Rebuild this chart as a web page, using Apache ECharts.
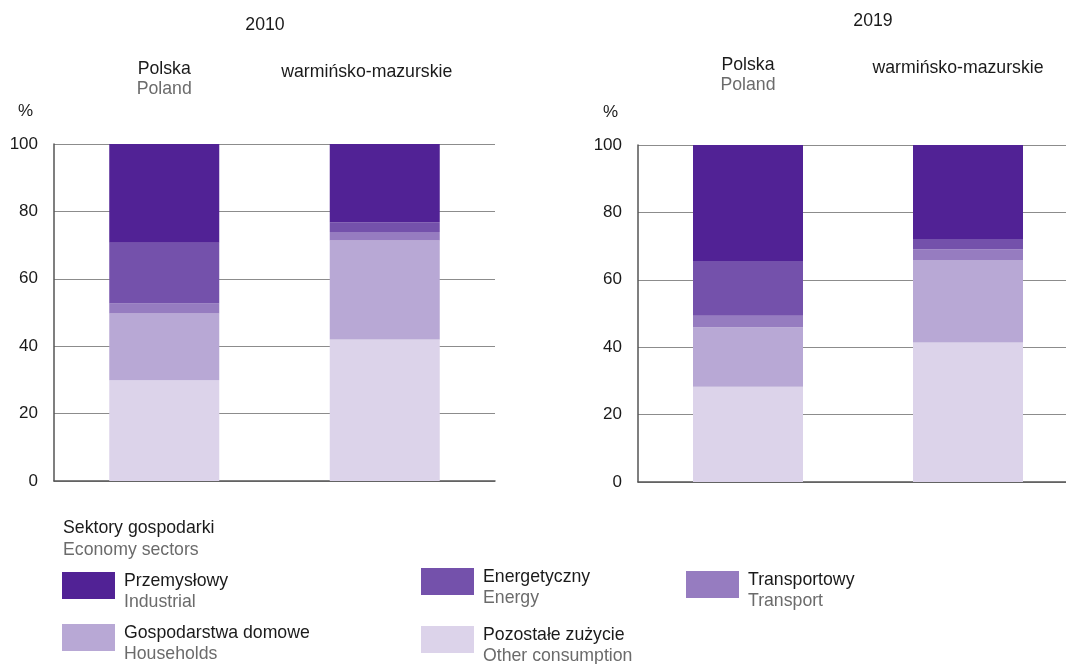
<!DOCTYPE html>
<html>
<head>
<meta charset="utf-8">
<script src="https://cdn.jsdelivr.net/npm/echarts@6/dist/echarts.min.js"></script>
<style>
  html, body { margin: 0; padding: 0; background: #fff; }
  #main { width: 1066px; height: 664px; }
</style>
</head>
<body>
<div id="main"></div>
<script>
// regions (Polish / English)
var regionsPl = ['Polska', 'warmińsko-mazurskie'];
var regionsEn = ['Poland', ''];
var years = ['2010', '2019'];

// sectors, bottom of stack first
var sectorsPl = ['Pozostałe zużycie', 'Gospodarstwa domowe', 'Transportowy', 'Energetyczny', 'Przemysłowy'];
var sectorsEn = ['Other consumption', 'Households', 'Transport', 'Energy', 'Industrial'];
var sectorColors = ['#dcd3ea', '#b8a8d5', '#967cc0', '#7451ab', '#512295'];

// shares in %, [Polska, warmińsko-mazurskie]
var other2010 = [29.9, 42.0];
var households2010 = [19.8, 29.4];
var transport2010 = [3.0, 2.5];
var energy2010 = [18.0, 2.9];
var industrial2010 = [29.3, 23.2];

var other2019 = [28.3, 41.4];
var households2019 = [17.6, 24.5];
var transport2019 = [3.4, 3.2];
var energy2019 = [16.3, 3.0];
var industrial2019 = [34.4, 27.9];

var yTicks = [0, 20, 40, 60, 80, 100];

var data2010 = [other2010, households2010, transport2010, energy2010, industrial2010];
var data2019 = [other2019, households2019, transport2019, energy2019, industrial2019];

var font = '"Liberation Sans", Arial, sans-serif';
var fs = 17.7;
var black = '#1a1a1a';
var grey = '#6b6b6b';

var grids = [
    { left: 54, top: 144, width: 441, height: 337, outerBoundsMode: 'none' },
    { left: 638, top: 145, width: 440, height: 337, outerBoundsMode: 'none' }
];

var xAxes = [];
var yAxes = [];
for (var g = 0; g < 2; g++) {
    // bottom axis: line only
    xAxes.push({
        type: 'category', gridIndex: g, data: regionsPl, position: 'bottom',
        axisLine: { show: true, lineStyle: { color: '#555', width: 1.5 } },
        axisTick: { show: false }, axisLabel: { show: false }
    });
    // top axis: region names only
    xAxes.push({
        type: 'category', gridIndex: g, data: regionsPl, position: 'top',
        axisLine: { show: false }, axisTick: { show: false },
        axisLabel: {
            margin: g == 0 ? 45 : 50,
            formatter: function (val, idx) {
                if (!regionsEn[idx]) return '{c|' + val + '}';
                return '{a|' + val + '}\n{b|' + regionsEn[idx] + '}';
            },
            rich: {
                a: { fontFamily: font, fontSize: fs, color: black, lineHeight: 20 },
                b: { fontFamily: font, fontSize: fs, color: grey, lineHeight: 20 },
                c: { fontFamily: font, fontSize: fs, color: black, lineHeight: 54,
                     padding: [0, g == 0 ? 36 : 20, 0, 0] }
            }
        }
    });
    yAxes.push({
        type: 'value', gridIndex: g, min: yTicks[0], max: yTicks[yTicks.length - 1], interval: 20,
        axisLine: { show: true, lineStyle: { color: '#555', width: 1.5 } },
        axisTick: { show: false },
        splitLine: { show: true, lineStyle: { color: '#8c8c8c', width: 1 } },
        axisLabel: { fontFamily: font, fontSize: 17, color: black, margin: 16 }
    });
}

var series = [];
[data2010, data2019].forEach(function (set, g) {
    set.forEach(function (vals, i) {
        series.push({
            name: sectorsPl[i],
            type: 'bar',
            stack: 'y' + g,
            xAxisIndex: g * 2,
            yAxisIndex: g,
            barWidth: 110,
            data: vals,
            itemStyle: { color: sectorColors[i] },
            emphasis: { disabled: true }
        });
    });
});

// legend items: [sector index, left, top]
var legendPos = [
    [4, 62, 572],
    [3, 421, 568],
    [2, 686, 571],
    [1, 62, 624],
    [0, 421, 626]
];
var legends = legendPos.map(function (p) {
    return {
        data: [sectorsPl[p[0]]],
        left: p[1], top: p[2], padding: 0,
        icon: 'rect', itemWidth: 53, itemHeight: 27,
        selectedMode: false,
        formatter: function (name) {
            return '{a|' + name + '}\n{b|' + sectorsEn[sectorsPl.indexOf(name)] + '}';
        },
        textStyle: {
            padding: [12, 0, 0, 4],
            rich: {
                a: { fontFamily: font, fontSize: fs, color: black, lineHeight: 21 },
                b: { fontFamily: font, fontSize: fs, color: grey, lineHeight: 21 }
            }
        }
    };
});

var option = {
    animation: false,
    color: sectorColors,
    title: [
        { text: years[0], left: 260, top: 11, textAlign: 'center',
          textStyle: { fontFamily: font, fontSize: fs, fontWeight: 'normal', color: black } },
        { text: years[1], left: 868, top: 7, textAlign: 'center',
          textStyle: { fontFamily: font, fontSize: fs, fontWeight: 'normal', color: black } },
        { text: '%', left: 13, top: 98,
          textStyle: { fontFamily: font, fontSize: 17, fontWeight: 'normal', color: black } },
        { text: '%', left: 598, top: 99,
          textStyle: { fontFamily: font, fontSize: 17, fontWeight: 'normal', color: black } },
        { text: 'Sektory gospodarki', subtext: 'Economy sectors', left: 58, top: 514, itemGap: 4,
          textStyle: { fontFamily: font, fontSize: fs, fontWeight: 'normal', color: black },
          subtextStyle: { fontFamily: font, fontSize: fs, color: grey } }
    ],
    legend: legends,
    grid: grids,
    xAxis: xAxes,
    yAxis: yAxes,
    series: series
};

var chart = echarts.init(document.getElementById('main'));
chart.setOption(option);
</script>
</body>
</html>
